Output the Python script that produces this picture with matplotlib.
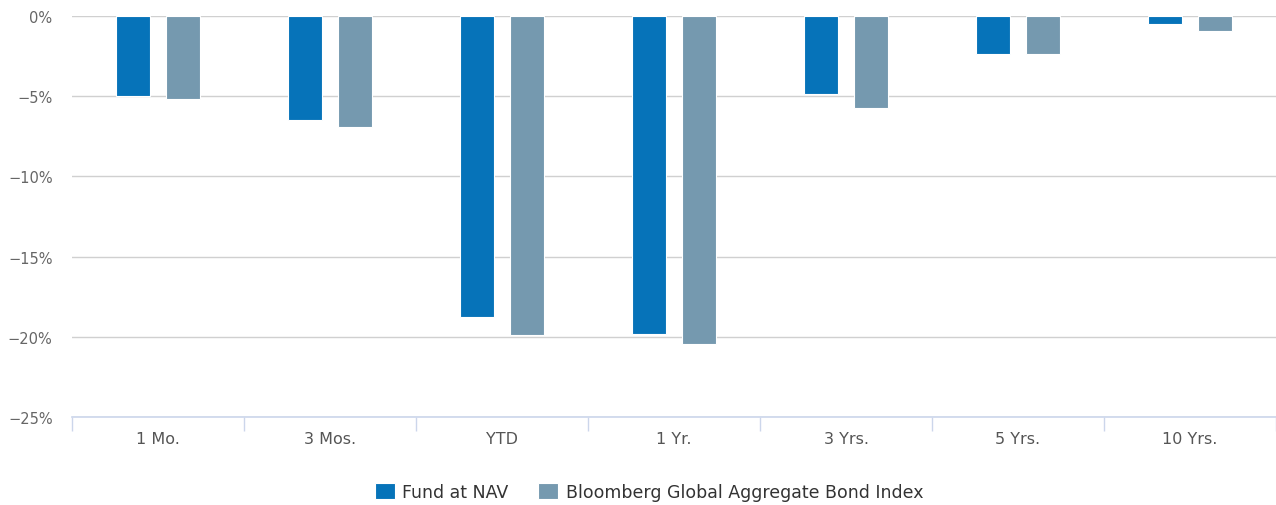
import matplotlib.pyplot as plt
import numpy as np
from matplotlib.ticker import FixedLocator, FuncFormatter

plt.rcParams['font.family'] = ['DejaVu Sans']

periods = ['1 Mo.', '3 Mos.', 'YTD', '1 Yr.', '3 Yrs.', '5 Yrs.', '10 Yrs.']
fund_nav = [-4.97, -6.49, -18.77, -19.81, -4.87, -2.34, -0.52]
bond_index = [-5.18, -6.93, -19.91, -20.45, -5.76, -2.34, -0.93]
series_names = ['Fund at NAV', 'Bloomberg Global Aggregate Bond Index']

fund_color = '#0673b9'
index_color = '#7599af'

fig = plt.figure(figsize=(12.76, 5.06), dpi=100)
ax = fig.add_axes([72 / 1276, 1 - 418 / 506, 1 - 72 / 1276, (418 - 17) / 506])

x = np.arange(len(periods))
width = 0.195
ax.bar(x - 0.145, fund_nav, width, color=fund_color, edgecolor='white',
       linewidth=0.8, label=series_names[0], zorder=3)
ax.bar(x + 0.145, bond_index, width, color=index_color, edgecolor='white',
       linewidth=0.8, label=series_names[1], zorder=3)

ax.set_xlim(-0.5, len(periods) - 0.5)
ax.set_ylim(-25, 0)

ax.set_yticks([0, -5, -10, -15, -20, -25])
ax.yaxis.set_major_formatter(FuncFormatter(
    lambda v, pos: f'{int(v)}%'.replace('-', '\u2212')))
ax.grid(axis='y', color='#d0d0d0', linewidth=1, zorder=0)
ax.tick_params(axis='y', length=0, pad=14, labelsize=10.5, labelcolor='#666666')

ax.set_xticks(x)
ax.set_xticklabels(periods)
ax.xaxis.set_minor_locator(FixedLocator(np.arange(-0.5, len(periods), 1.0)))
ax.tick_params(axis='x', which='major', length=0, pad=10, labelsize=11.5,
               labelcolor='#555555')
ax.tick_params(axis='x', which='minor', length=10, width=1, color='#ccd6eb')

for side in ['top', 'right', 'left']:
    ax.spines[side].set_visible(False)
ax.spines['bottom'].set_color('#ccd6eb')
ax.spines['bottom'].set_linewidth(1.2)

fig.legend(loc='center', bbox_to_anchor=(649 / 1276, 1 - 493 / 506), ncol=2,
           frameon=False, fontsize=12.5, handlelength=1.15, handleheight=1.0,
           columnspacing=1.7, handletextpad=0.45, labelcolor='#333333')

fig.savefig('out.png', dpi=100)
